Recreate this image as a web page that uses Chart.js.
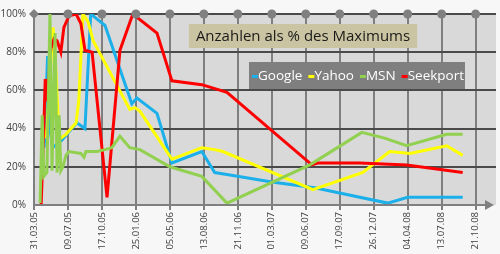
<!DOCTYPE html>
<html>
<head>
<meta charset="utf-8">
<script src="https://cdn.jsdelivr.net/npm/chart.js@4"></script>
<style>
  html, body { margin: 0; padding: 0; background: #f7f7f7; }
  #wrap { width: 500px; height: 254px; }
</style>
</head>
<body>
<div id="wrap"><canvas id="chart"></canvas></div>
<script>
// x = days since 31.03.05, y = % of maximum
const tickLabels = ["31.03.05", "09.07.05", "17.10.05", "25.01.06", "05.05.06", "13.08.06", "21.11.06",
  "01.03.07", "09.06.07", "17.09.07", "26.12.07", "04.04.08", "13.07.08", "21.10.08"];
const yTicks = [0, 20, 40, 60, 80, 100];
const seriesNames = ["Google", "Yahoo", "MSN", "Seekport"];
const seriesColors = ["#1cb0ea", "#ffff00", "#92d050", "#ff0000"];

const googleData = [[30,30],[40,78],[47,40],[55,30],[82,34],[126,43],[150,40],[167,100],[174,99],[209,94],
  [288,53],[303,56],[362,48],[406,22],[494,28],[532,17],[568,16],[700,12],[826,9],[1041,1],[1100,4],[1262,4]];
const yahooData = [[32,35],[38,40],[56,93],[62,80],[74,35],[79,35],[94,37],[124,43],[132,55],[144,100],
  [159,96],[174,86],[282,50],[297,51],[312,49],[406,24],[494,30],[532,29],[556,28],[821,8],[968,17],
  [1047,28],[1106,27],[1215,31],[1262,26]];
const msnData = [[18,1],[24,47],[29,15],[38,17],[47,100],[53,18],[62,90],[68,17],[74,47],[79,18],[85,20],
  [94,26],[103,28],[138,27],[147,25],[153,28],[185,28],[209,29],[229,30],[253,36],[282,30],[312,29],
  [400,20],[494,15],[568,1],[812,21],[965,38],[1032,35],[1097,31],[1215,37],[1262,37]];
const seekportData = [[21,0],[29,40],[33,66],[36,55],[38,66],[42,60],[47,78],[50,82],[59,87],[68,86],
  [79,80],[88,93],[103,99],[124,100],[138,95],[150,81],[171,80],[215,4],[253,81],[291,100],[362,90],
  [406,65],[494,63],[568,59],[818,21],[835,22],[959,22],[1097,21],[1262,17]];

const allData = [googleData, yahooData, msnData, seekportData];
const drawOrder = [4, 3, 1, 2];

const decor = {
  id: "decor",
  beforeDraw(chart) {
    const { ctx, chartArea: a } = chart;
    ctx.save();
    ctx.fillStyle = "#f7f7f7";
    ctx.fillRect(0, 0, chart.width, chart.height);
    ctx.fillStyle = "#d9d9d9";
    ctx.fillRect(a.left, a.top, a.right - a.left, a.bottom - a.top);
    ctx.restore();
  },
  afterDatasetsDraw(chart) {
    const { ctx, chartArea: a, scales } = chart;
    ctx.save();
    // x axis with arrow
    ctx.strokeStyle = "#808080";
    ctx.fillStyle = "#808080";
    ctx.lineWidth = 2;
    ctx.beginPath();
    ctx.moveTo(a.left, a.bottom);
    ctx.lineTo(a.right - 4, a.bottom);
    ctx.stroke();
    ctx.beginPath();
    ctx.moveTo(a.right - 2, a.bottom);
    ctx.lineTo(a.right - 11, a.bottom - 5);
    ctx.lineTo(a.right - 11, a.bottom + 5);
    ctx.closePath();
    ctx.fill();
    // dots along the top line
    scales.x.ticks.forEach((t, i) => {
      const x = scales.x.getPixelForValue(t.value);
      ctx.beginPath();
      if (i === 0) {
        ctx.moveTo(x, a.top - 5); ctx.lineTo(x + 5, a.top); ctx.lineTo(x, a.top + 5); ctx.lineTo(x - 5, a.top);
        ctx.closePath();
      } else {
        ctx.arc(x, a.top, 4.5, 0, Math.PI * 2);
      }
      ctx.fill();
    });

    // title box
    const title = "Anzahlen als % des Maximums";
    ctx.font = "15px 'Open Sans'";
    const tw = ctx.measureText(title).width;
    const tx = 303, ty = 36;
    ctx.fillStyle = "#cbc4a2";
    ctx.fillRect(tx - tw / 2 - 7, ty - 12, tw + 14, 24);
    ctx.fillStyle = "#1a1a1a";
    ctx.textAlign = "center";
    ctx.textBaseline = "middle";
    ctx.fillText(title, tx, ty + 1);

    // legend box
    ctx.font = "13.5px 'Open Sans'";
    ctx.textAlign = "left";
    const lx = 249, ly = 62, lw = 216, lh = 27;
    ctx.fillStyle = "#7f7f7f";
    ctx.fillRect(lx, ly, lw, lh);
    let x = lx + 3;
    seriesNames.forEach((name, i) => {
      ctx.strokeStyle = seriesColors[i];
      ctx.lineWidth = 3;
      ctx.beginPath();
      ctx.moveTo(x, ly + lh / 2 + 1);
      ctx.lineTo(x + 6, ly + lh / 2 + 1);
      ctx.stroke();
      ctx.fillStyle = "#ffffff";
      ctx.fillText(name, x + 6, ly + lh / 2 + 1);
      x += 6 + ctx.measureText(name).width + 6;
    });
    ctx.restore();
  }
};

new Chart(document.getElementById("chart"), {
  type: "line",
  data: {
    datasets: allData.map((d, i) => ({
      label: seriesNames[i],
      data: d.map(p => ({ x: p[0], y: p[1] })),
      borderColor: seriesColors[i],
      backgroundColor: seriesColors[i],
      borderWidth: 3,
      pointRadius: 0,
      tension: 0,
      fill: false,
      order: drawOrder[i]
    }))
  },
  options: {
    responsive: true,
    maintainAspectRatio: false,
    animation: false,
    layout: { padding: { top: 13, right: 4, left: 0, bottom: 0 } },
    plugins: { legend: { display: false }, tooltip: { enabled: false }, title: { display: false } },
    scales: {
      x: {
        type: "linear",
        min: 0,
        max: 1360,
        afterFit: s => { s.height = 49; },
        border: { display: false },
        grid: { color: "#7f7f7f", lineWidth: 2, tickLength: 5, tickColor: "#7f7f7f" },
        ticks: {
          stepSize: 100,
          includeBounds: false,
          minRotation: 90,
          maxRotation: 90,
          padding: 2,
          color: "#404040",
          font: { family: "'Open Sans'", size: 9.5 },
          callback: (v, i) => tickLabels[i]
        }
      },
      y: {
        min: 0,
        max: 100,
        afterFit: s => { s.width = 34; },
        afterBuildTicks: s => { s.ticks = yTicks.map(v => ({ value: v })); },
        border: { display: false },
        grid: { color: c => c.tick && c.tick.value === 0 ? "rgba(0,0,0,0)" : "#4a4a4a", lineWidth: 2, drawTicks: false },
        ticks: {
          padding: 8,
          color: "#404040",
          font: { family: "'Open Sans'", size: 10 },
          callback: v => v + "%"
        }
      }
    }
  },
  plugins: [decor]
});
</script>
</body>
</html>
